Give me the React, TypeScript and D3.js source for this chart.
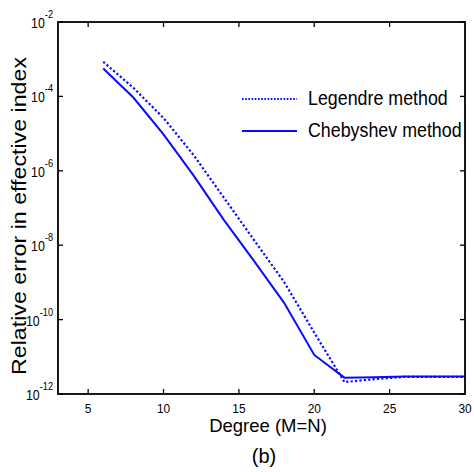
import * as d3 from "d3";
import React, { useEffect, useRef } from "react";

// degree (M=N)
const degrees = [6, 8, 10, 12, 14, 16, 18, 20, 22, 24, 26, 28, 30];
// log10 of relative error
const legendreLog = [-3.07, -3.77, -4.58, -5.58, -6.72, -7.86, -8.99, -10.35, -11.68, -11.6, -11.54, -11.54, -11.54];
const chebyshevLog = [-3.25, -4.03, -5.02, -6.13, -7.32, -8.42, -9.55, -10.95, -11.56, -11.55, -11.53, -11.53, -11.53];

const xTicks = [5, 10, 15, 20, 25, 30];
const yTickExps = [-12, -10, -8, -6, -4, -2];

const legendItems = ["Legendre method", "Chebyshev method"];

const App = () => {
    const svgRef = useRef(null);

    const width = 474;
    const height = 472;
    const left = 58;
    const right = 465;
    const top = 22;
    const bottom = 394;
    const blue = "#0a0aff";
    const font = "Arial, 'Liberation Sans', sans-serif";

    useEffect(() => {
        const svg = d3.select(svgRef.current);
        svg.selectAll("*").remove();

        const x = d3.scaleLinear().domain([3, 30]).range([left, right]);
        const y = d3.scaleLog().domain([1e-12, 1e-2]).range([bottom, top]);

        const line = d3.line()
            .x((d) => x(d[0]))
            .y((d) => y(Math.pow(10, d[1])));

        const legendre = degrees.map((d, i) => [d, legendreLog[i]]);
        const chebyshev = degrees.map((d, i) => [d, chebyshevLog[i]]);

        svg.append("path")
            .attr("d", line(chebyshev))
            .attr("fill", "none")
            .attr("stroke", blue)
            .attr("stroke-width", 2);

        svg.append("path")
            .attr("d", line(legendre))
            .attr("fill", "none")
            .attr("stroke", blue)
            .attr("stroke-width", 2.2)
            .attr("stroke-dasharray", "2.2,2.2");

        // box
        svg.append("rect")
            .attr("x", left)
            .attr("y", top)
            .attr("width", right - left)
            .attr("height", bottom - top)
            .attr("fill", "none")
            .attr("stroke", "black")
            .attr("stroke-width", 1.8);

        // ticks (inward, on all four sides)
        const tick = 5;
        xTicks.forEach((t) => {
            if (t >= 30) return;
            svg.append("line").attr("x1", x(t)).attr("x2", x(t))
                .attr("y1", bottom).attr("y2", bottom - tick)
                .attr("stroke", "black").attr("stroke-width", 1.3);
            svg.append("line").attr("x1", x(t)).attr("x2", x(t))
                .attr("y1", top).attr("y2", top + tick)
                .attr("stroke", "black").attr("stroke-width", 1.3);
        });
        yTickExps.forEach((e) => {
            const yy = y(Math.pow(10, e));
            svg.append("line").attr("x1", left).attr("x2", left + tick)
                .attr("y1", yy).attr("y2", yy)
                .attr("stroke", "black").attr("stroke-width", 1.3);
            svg.append("line").attr("x1", right).attr("x2", right - tick)
                .attr("y1", yy).attr("y2", yy)
                .attr("stroke", "black").attr("stroke-width", 1.3);
        });

        // x tick labels (narrow face)
        xTicks.forEach((t) => {
            svg.append("text")
                .attr("transform", `translate(${x(t)}, ${bottom + 18.5}) scale(0.88, 1)`)
                .attr("text-anchor", "middle")
                .style("font", `13.5px ${font}`)
                .text(t);
        });

        // y tick labels: 10 with superscript exponent
        yTickExps.forEach((e) => {
            const yy = y(Math.pow(10, e));
            const t = svg.append("text")
                .attr("transform", `translate(53, ${yy + 6}) scale(0.8, 1)`)
                .attr("text-anchor", "end")
                .style("font", `15.5px ${font}`);
            t.append("tspan").text("10");
            t.append("tspan")
                .attr("dy", -10)
                .style("font-size", "11.5px")
                .text(String(e));
        });

        // axis titles
        svg.append("text")
            .attr("x", 268)
            .attr("y", 432)
            .attr("text-anchor", "middle")
            .style("font", `18.5px ${font}`)
            .text("Degree (M=N)");

        svg.append("text")
            .attr("x", 264)
            .attr("y", 463)
            .attr("text-anchor", "middle")
            .style("font", `20px ${font}`)
            .text("(b)");

        svg.append("text")
            .attr("transform", `translate(25.5, 216) rotate(-90)`)
            .attr("x", -159)
            .attr("textLength", 318)
            .attr("lengthAdjust", "spacingAndGlyphs")
            .style("font", `20.5px ${font}`)
            .text("Relative error in effective index");

        // legend
        legendItems.forEach((name, i) => {
            const ly = 99 + i * 32;
            svg.append("line")
                .attr("x1", 242).attr("x2", 297)
                .attr("y1", ly).attr("y2", ly)
                .attr("stroke", blue)
                .attr("stroke-width", i === 0 ? 2 : 1.8)
                .attr("stroke-dasharray", i === 0 ? "1.6,1.6" : null);
            svg.append("text")
                .attr("transform", `translate(308, ${ly + 5.5}) scale(0.87, 1)`)
                .style("font", `20.5px ${font}`)
                .text(name);
        });
    }, []);

    return (
        <svg
            ref={svgRef}
            width={width}
            height={height}
            style={{ position: "absolute", left: 0, top: 0, background: "white" }}
        />
    );
};

export default App;
